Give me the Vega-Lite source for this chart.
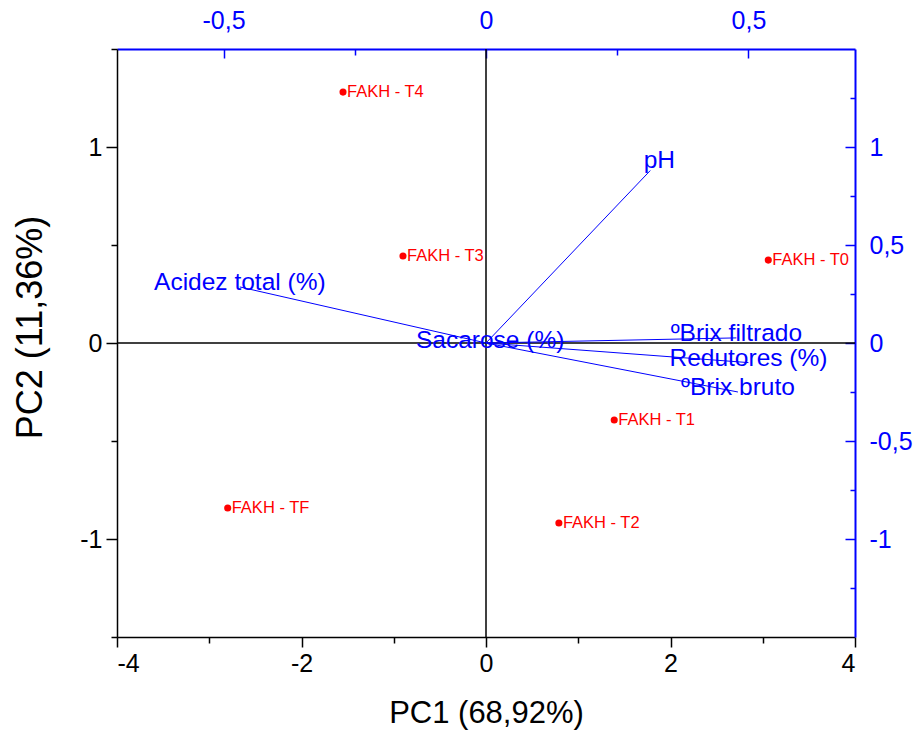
{
  "$schema": "https://vega.github.io/schema/vega-lite/v6.json",
  "width": 738,
  "height": 588,
  "autosize": "none",
  "padding": {"left": 117, "top": 49, "right": 60, "bottom": 94},
  "background": "white",
  "config": {
    "view": {"stroke": null},
    "font": "Liberation Sans",
    "axis": {"grid": false, "labelFont": "Liberation Sans", "titleFont": "Liberation Sans", "titleFontWeight": "normal", "labelFontSize": 25, "domainWidth": 1.5, "tickWidth": 1.5}
  },
  "layer": [
    {
      "layer": [
        {
          "data": {"values": [{"v": 0}]},
          "mark": {"type": "rule", "color": "black", "strokeWidth": 1.5},
          "encoding": {"y": {"field": "v", "type": "quantitative"}}
        },
        {
          "data": {"values": [{"v": 0}]},
          "mark": {"type": "rule", "color": "black", "strokeWidth": 1.5},
          "encoding": {"x": {"field": "v", "type": "quantitative"}}
        },
        {
          "data": {"values": [
            {"sample": "FAKH - T4", "PC1": -1.55, "PC2": 1.28},
            {"sample": "FAKH - T3", "PC1": -0.90, "PC2": 0.444},
            {"sample": "FAKH - T0", "PC1": 3.06, "PC2": 0.423},
            {"sample": "FAKH - T1", "PC1": 1.39, "PC2": -0.393},
            {"sample": "FAKH - T2", "PC1": 0.79, "PC2": -0.918},
            {"sample": "FAKH - TF", "PC1": -2.80, "PC2": -0.842}
          ]},
          "layer": [
            {
              "mark": {"type": "circle", "color": "#ff0000", "opacity": 1, "size": 50},
              "encoding": {
                "x": {"field": "PC1", "type": "quantitative"},
                "y": {"field": "PC2", "type": "quantitative"}
              }
            },
            {
              "mark": {"type": "text", "color": "#ff0000", "align": "left", "baseline": "middle", "dx": 4, "fontSize": 16.5},
              "encoding": {
                "x": {"field": "PC1", "type": "quantitative"},
                "y": {"field": "PC2", "type": "quantitative"},
                "text": {"field": "sample"}
              }
            }
          ]
        }
      ],
      "encoding": {
        "x": {
          "type": "quantitative",
          "scale": {"domain": [-4, 4], "nice": false, "zero": false},
          "axis": {
            "orient": "bottom",
            "title": "PC1 (68,92%)",
            "titleFontSize": 31,
            "titleColor": "black",
            "titlePadding": 22,
            "values": [-4, -3, -2, -1, 0, 1, 2, 3, 4],
            "labelExpr": "datum.value % 2 === 0 ? '' + datum.value : ''",
            "labelColor": "black",
            "domainColor": "black",
            "tickColor": "black",
            "tickSize": {"condition": {"test": "datum.value % 2 === 0", "value": 10}, "value": 6},
            "labelPadding": 4
          }
        },
        "y": {
          "type": "quantitative",
          "scale": {"domain": [-1.5, 1.5], "nice": false, "zero": false},
          "axis": {
            "orient": "left",
            "title": "PC2 (11,36%)",
            "titleFontSize": 36,
            "titleColor": "black",
            "titlePadding": 30,
            "titleY": 278,
            "values": [-1.5, -1, -0.5, 0, 0.5, 1, 1.5],
            "labelExpr": "datum.value % 1 === 0 ? '' + datum.value : ''",
            "labelColor": "black",
            "domainColor": "black",
            "tickColor": "black",
            "tickSize": {"condition": {"test": "datum.value % 1 === 0", "value": 11}, "value": 6},
            "labelPadding": 4
          }
        }
      }
    },
    {
      "data": {"values": [
        {"var": "pH", "L1": 0.313, "L2": 0.88},
        {"var": "Acidez total (%)", "L1": -0.469, "L2": 0.286},
        {"var": "ºBrix filtrado", "L1": 0.477, "L2": 0.026},
        {"var": "Redutores (%)", "L1": 0.50, "L2": -0.10},
        {"var": "ºBrix bruto", "L1": 0.48, "L2": -0.25},
        {"var": "Sacarose (%)", "L1": 0.008, "L2": -0.008}
      ]},
      "layer": [
        {
          "mark": {"type": "rule", "color": "#0000ff", "strokeWidth": 1},
          "encoding": {
            "x2": {"datum": 0},
            "y2": {"datum": 0}
          }
        },
        {
          "transform": [{"filter": "datum.var !== 'pH'"}],
          "mark": {"type": "text", "color": "#0000ff", "align": "center", "baseline": "middle", "dy": -4, "fontSize": 24.5},
          "encoding": {
            "text": {"field": "var"}
          }
        },
        {
          "transform": [{"filter": "datum.var === 'pH'"}],
          "mark": {"type": "text", "color": "#0000ff", "align": "center", "baseline": "middle", "dx": 9, "dy": -10, "fontSize": 24.5},
          "encoding": {
            "text": {"field": "var"}
          }
        }
      ],
      "encoding": {
        "x": {
          "field": "L1",
          "type": "quantitative",
          "scale": {"domain": [-0.703, 0.703], "nice": false, "zero": false},
          "axis": {
            "orient": "top",
            "title": null,
            "values": [-0.5, -0.25, 0, 0.25, 0.5],
            "labelExpr": "datum.value % 0.5 === 0 ? replace('' + datum.value, '.', ',') : ''",
            "labelColor": "#0000ff",
            "domainColor": "#0000ff",
            "domainWidth": 2,
            "tickColor": "#0000ff",
            "tickSize": {"condition": {"test": "datum.value % 0.5 === 0", "value": -9}, "value": -6},
            "labelPadding": 25
          }
        },
        "y": {
          "field": "L2",
          "type": "quantitative",
          "scale": {"domain": [-1.5, 1.5], "nice": false, "zero": false},
          "axis": {
            "orient": "right",
            "title": null,
            "values": [-1.25, -1, -0.75, -0.5, -0.25, 0, 0.25, 0.5, 0.75, 1, 1.25],
            "labelExpr": "datum.value % 0.5 === 0 ? replace('' + datum.value, '.', ',') : ''",
            "labelColor": "#0000ff",
            "domainColor": "#0000ff",
            "domainWidth": 2,
            "tickColor": "#0000ff",
            "tickSize": {"condition": {"test": "datum.value % 0.5 === 0", "value": -10}, "value": -5},
            "labelPadding": 24
          }
        }
      }
    }
  ],
  "resolve": {"scale": {"x": "independent", "y": "independent"}, "axis": {"x": "independent", "y": "independent"}}
}
